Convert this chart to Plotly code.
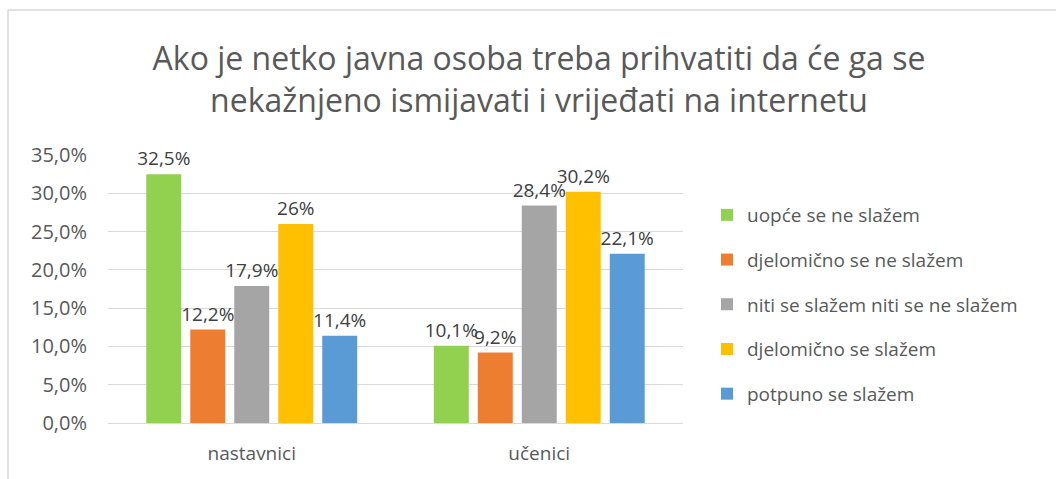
import plotly.graph_objects as go

categories = ["nastavnici", "učenici"]
series_names = ["uopće se ne slažem", "djelomično se ne slažem",
                "niti se slažem niti se ne slažem", "djelomično se slažem",
                "potpuno se slažem"]
values = [
    [32.5, 10.1],
    [12.2, 9.2],
    [17.9, 28.4],
    [26.0, 30.2],
    [11.4, 22.1],
]
labels = [
    ["32,5%", "10,1%"],
    ["12,2%", "9,2%"],
    ["17,9%", "28,4%"],
    ["26%", "30,2%"],
    ["11,4%", "22,1%"],
]
colors = ["#92D050", "#ED7D31", "#A5A5A5", "#FFC000", "#5B9BD5"]
y_ticks = [0, 5, 10, 15, 20, 25, 30, 35]
y_tick_labels = ["0,0%", "5,0%", "10,0%", "15,0%", "20,0%", "25,0%", "30,0%", "35,0%"]

FONT = "Open Sans"
W, H = 1056, 479
L, R, T, B = 108, 683, 155, 423

fig = go.Figure()
for i, name in enumerate(series_names):
    fig.add_trace(go.Bar(
        x=categories, y=values[i], name=name,
        marker=dict(color=colors[i], line=dict(width=0)),
        text=labels[i], textposition="outside", cliponaxis=False,
        constraintext="none",
        textfont=dict(family=FONT, size=19, color="#404040"),
        legendgroup=f"g{i}",
    ))

fig.update_layout(
    width=W, height=H,
    margin=dict(l=L, r=W - R, t=T, b=H - B, autoexpand=False),
    paper_bgcolor="white", plot_bgcolor="white",
    barmode="group", bargap=0.235, bargroupgap=0.205,
    title=dict(
        text="Ako je netko javna osoba treba prihvatiti da će ga se<br>nekažnjeno ismijavati i vrijeđati na internetu",
        x=539 / W, xanchor="center", y=1 - 70 / H, yanchor="middle",
        font=dict(family=FONT, size=32, color="#595959"),
    ),
    legend=dict(
        x=(707 - L) / (R - L), xanchor="left", y=(B - 196) / (B - T), yanchor="top",
        font=dict(family=FONT, size=19, color="#595959"),
        traceorder="grouped", tracegroupgap=17, itemwidth=30,
        bgcolor="rgba(0,0,0,0)",
    ),
    xaxis=dict(
        showgrid=False, showline=False, ticks="", ticklabelstandoff=17,
        tickfont=dict(family=FONT, size=19, color="#595959"),
    ),
    yaxis=dict(
        range=[0, 35], tickvals=y_ticks, ticktext=y_tick_labels,
        showgrid=True, gridcolor="#D9D9D9", gridwidth=1,
        zeroline=True, zerolinecolor="#D9D9D9", zerolinewidth=1,
        showline=False, ticks="", ticklabelstandoff=20,
        tickfont=dict(family=FONT, size=20, color="#595959"),
    ),
    showlegend=True,
)

# outer chart border (left and top edges visible)
bx = (8 - L) / (R - L)
by = (B - 10) / (B - T)
fig.add_shape(type="line", xref="paper", yref="paper",
              x0=bx, x1=bx, y0=-0.3, y1=by, line=dict(color="#D9D9D9", width=1.5))
fig.add_shape(type="line", xref="paper", yref="paper",
              x0=bx, x1=2.0, y0=by, y1=by, line=dict(color="#D9D9D9", width=1.5))

fig.write_html("out.html", config={"displayModeBar": False},
               post_script="document.body.style.margin='0';")
